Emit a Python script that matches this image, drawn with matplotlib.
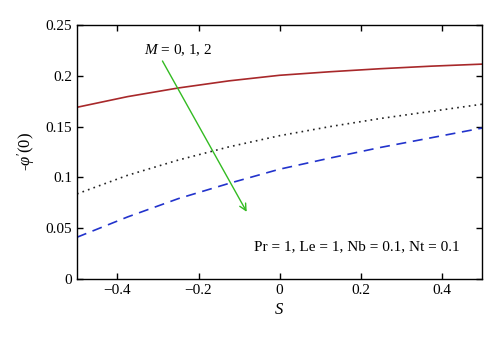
import matplotlib
matplotlib.use("Agg")
import matplotlib.pyplot as plt

plt.rcParams['font.family'] = ['Liberation Serif', 'DejaVu Serif']
plt.rcParams['mathtext.fontset'] = 'custom'
plt.rcParams['mathtext.rm'] = 'Liberation Serif'
plt.rcParams['mathtext.it'] = 'Liberation Serif:italic'

S = [-0.5, -0.375, -0.25, -0.125, 0.0, 0.125, 0.25, 0.375, 0.5]
m0 = [0.169, 0.1795, 0.188, 0.195, 0.2005, 0.204, 0.207, 0.2095, 0.2115]
m1 = [0.0837, 0.102, 0.117, 0.130, 0.141, 0.150, 0.158, 0.165, 0.172]
m2 = [0.041, 0.061, 0.079, 0.094, 0.108, 0.119, 0.1295, 0.139, 0.1485]

xticks = [-0.4, -0.2, 0, 0.2, 0.4]
xticklabels = ['\u22120.4', '\u22120.2', '0', '0.2', '0.4']
yticks = [0, 0.05, 0.1, 0.15, 0.2, 0.25]
yticklabels = ['0', '0.05', '0.1', '0.15', '0.2', '0.25']

fig = plt.figure(figsize=(5.0, 3.43), dpi=100)
ax = fig.add_axes([0.154, 0.187, 0.81, 0.74])

ax.plot(S, m0, color='#a8282a', lw=1.2, ls='-')
ax.plot(S, m1, color='#222222', lw=1.2, ls=(0, (1, 2.5)))
ax.plot(S, m2, color='#2233cc', lw=1.2, ls=(0, (6, 4)))

ax.annotate('', xy=(-0.081, 0.066), xytext=(-0.289, 0.2146),
            arrowprops=dict(arrowstyle='->', color='#33bb22', lw=1.0,
                            mutation_scale=12, shrinkA=0, shrinkB=0))
ax.text(-0.25, 0.2255, r'$M$ = 0, 1, 2', ha='center', va='center', fontsize=11)
ax.text(0.19, 0.0315, 'Pr = 1, Le = 1, Nb = 0.1, Nt = 0.1',
        ha='center', va='center', fontsize=11)

ax.set_xlim(-0.5, 0.5)
ax.set_ylim(0, 0.25)
ax.set_xticks(xticks)
ax.set_xticklabels(xticklabels)
ax.set_yticks(yticks)
ax.set_yticklabels(yticklabels)
ax.tick_params(direction='in', top=True, right=True, labelsize=11, length=4, width=1)
for sp in ax.spines.values():
    sp.set_linewidth(1.0)
ax.set_xlabel(r'$S$', fontsize=12, labelpad=4)
ax.set_ylabel(r"-$\varphi'$(0)", fontsize=12, labelpad=6)

fig.savefig('out.png', dpi=100)
